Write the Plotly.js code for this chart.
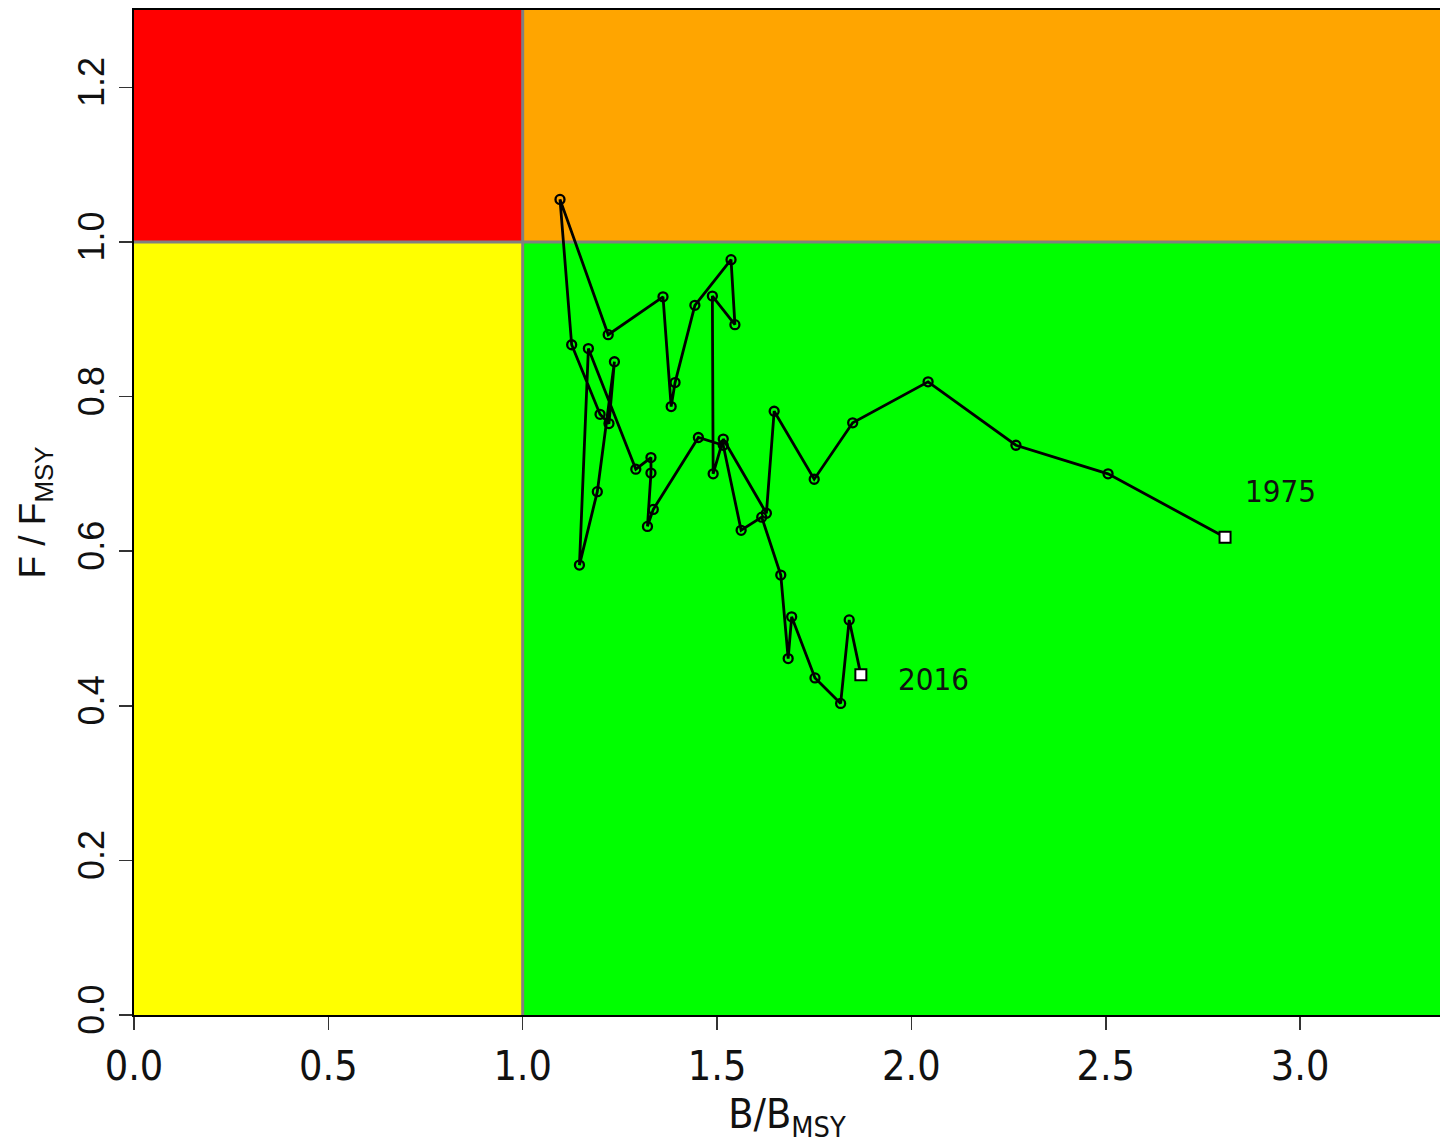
<!DOCTYPE html>
<html>
<head>
<meta charset="utf-8">
<script src="https://cdn.plot.ly/plotly-3.0.1.min.js"></script>
<style>
  html, body { margin: 0; padding: 0; background: #ffffff; }
  #chart { width: 1440px; height: 1144px; }
</style>
</head>
<body>
<div id="chart"></div>
<script>
// Stock status trajectory, 1975-2016: biomass and fishing mortality relative to MSY levels
const years = [1975, 1976, 1977, 1978, 1979, 1980, 1981, 1982, 1983, 1984,
               1985, 1986, 1987, 1988, 1989, 1990, 1991, 1992, 1993, 1994,
               1995, 1996, 1997, 1998, 1999, 2000, 2001, 2002, 2003, 2004,
               2005, 2006, 2007, 2008, 2009, 2010, 2011, 2012, 2013, 2014,
               2015, 2016];

// B / B_MSY
const bRatio = [2.807, 2.506, 2.269, 2.043, 1.849, 1.750, 1.647, 1.627, 1.516, 1.490,
                1.488, 1.546, 1.536, 1.443, 1.392, 1.382, 1.361, 1.220, 1.096, 1.126,
                1.199, 1.222, 1.236, 1.192, 1.146, 1.169, 1.291, 1.330, 1.330, 1.321,
                1.336, 1.452, 1.516, 1.562, 1.615, 1.664, 1.683, 1.692, 1.752, 1.818,
                1.840, 1.870];

// F / F_MSY
const fRatio = [0.618, 0.700, 0.737, 0.819, 0.766, 0.693, 0.781, 0.649, 0.745, 0.700,
                0.930, 0.893, 0.977, 0.918, 0.818, 0.787, 0.929, 0.880, 1.055, 0.867,
                0.777, 0.765, 0.845, 0.677, 0.582, 0.862, 0.706, 0.721, 0.701, 0.632,
                0.654, 0.747, 0.737, 0.627, 0.644, 0.569, 0.461, 0.515, 0.436, 0.403,
                0.511, 0.440];

const xTickVals = [0, 0.5, 1, 1.5, 2, 2.5, 3];
const xTickText = ['0.0', '0.5', '1.0', '1.5', '2.0', '2.5', '3.0'];
const yTickVals = [0, 0.2, 0.4, 0.6, 0.8, 1.0, 1.2];
const yTickText = ['0.0', '0.2', '0.4', '0.6', '0.8', '1.0', '1.2'];

// Reference points (B = B_MSY, F = F_MSY) and axis limits
const bRef = 1.0;
const fRef = 1.0;
const xMax = 3.36;
const yMax = 1.3;

const narrowFont = '"Liberation Sans Narrow", "Arial Narrow", "DejaVu Sans Condensed", sans-serif';
const regularFont = '"Liberation Sans", Arial, sans-serif';

const first = 0;
const last = years.length - 1;

const pathTrace = {
  type: 'scatter',
  mode: 'lines',
  x: bRatio,
  y: fRatio,
  line: { color: '#000000', width: 2.8 },
  hoverinfo: 'skip'
};

const yearPoints = {
  type: 'scatter',
  mode: 'markers',
  x: bRatio.slice(first + 1, last),
  y: fRatio.slice(first + 1, last),
  text: years.slice(first + 1, last).map(String),
  marker: { symbol: 'circle-open', size: 9, color: '#000000', line: { width: 2.3 } },
  hovertemplate: '%{text}<br>B/Bmsy=%{x}<br>F/Fmsy=%{y}<extra></extra>'
};

const endPoints = {
  type: 'scatter',
  mode: 'markers',
  x: [bRatio[first], bRatio[last]],
  y: [fRatio[first], fRatio[last]],
  text: [String(years[first]), String(years[last])],
  marker: { symbol: 'square', size: 11, color: '#ffffff', line: { color: '#000000', width: 2 } },
  hovertemplate: '%{text}<br>B/Bmsy=%{x}<br>F/Fmsy=%{y}<extra></extra>'
};

const zone = (x0, x1, y0, y1, color) => ({
  type: 'rect', xref: 'x', yref: 'y', x0, x1, y0, y1,
  fillcolor: color, line: { width: 0 }, layer: 'below'
});

const layout = {
  width: 1440,
  height: 1144,
  margin: { l: 134, r: 0, t: 10, b: 129 },
  paper_bgcolor: '#ffffff',
  plot_bgcolor: '#ffffff',
  showlegend: false,
  xaxis: {
    range: [0, xMax],
    tickmode: 'array',
    tickvals: xTickVals,
    ticktext: xTickText,
    ticks: 'outside',
    ticklen: 13,
    tickwidth: 1.6,
    tickcolor: '#333333',
    showline: true,
    linecolor: '#000000',
    linewidth: 2.4,
    mirror: true,
    showgrid: false,
    zeroline: false,
    tickfont: { family: narrowFont, size: 41, color: '#111111' },
    title: {
      text: 'B/B<sub>MSY</sub>',
      font: { family: narrowFont, size: 41, color: '#111111' },
      standoff: 12
    }
  },
  yaxis: {
    range: [0, yMax],
    tickmode: 'array',
    tickvals: yTickVals,
    ticktext: yTickText,
    tickangle: -90,
    ticks: 'outside',
    ticklen: 13,
    tickwidth: 1.6,
    tickcolor: '#333333',
    showline: true,
    linecolor: '#000000',
    linewidth: 2.4,
    mirror: false,
    showgrid: false,
    zeroline: false,
    tickfont: { family: regularFont, size: 36, color: '#111111' },
    title: {
      text: 'F / F<sub>MSY</sub>',
      font: { family: regularFont, size: 37, color: '#111111' },
      standoff: 14
    }
  },
  shapes: [
    zone(0, bRef, fRef, yMax, '#ff0000'),
    zone(bRef, xMax, fRef, yMax, '#ffa500'),
    zone(0, bRef, 0, fRef, '#ffff00'),
    zone(bRef, xMax, 0, fRef, '#00ff00'),
    { type: 'line', xref: 'x', yref: 'y', x0: bRef, x1: bRef, y0: 0, y1: yMax,
      line: { color: '#808080', width: 3 }, layer: 'below' },
    { type: 'line', xref: 'x', yref: 'y', x0: 0, x1: xMax, y0: fRef, y1: fRef,
      line: { color: '#808080', width: 3 }, layer: 'below' }
  ],
  annotations: [
    { x: 2.949, y: 0.678, xref: 'x', yref: 'y', text: String(years[first]), showarrow: false,
      font: { family: narrowFont, size: 31, color: '#111111' } },
    { x: 2.058, y: 0.435, xref: 'x', yref: 'y', text: String(years[last]), showarrow: false,
      font: { family: narrowFont, size: 31, color: '#111111' } }
  ]
};

Plotly.newPlot('chart', [pathTrace, yearPoints, endPoints], layout, { displayModeBar: false, staticPlot: true });
</script>
</body>
</html>
